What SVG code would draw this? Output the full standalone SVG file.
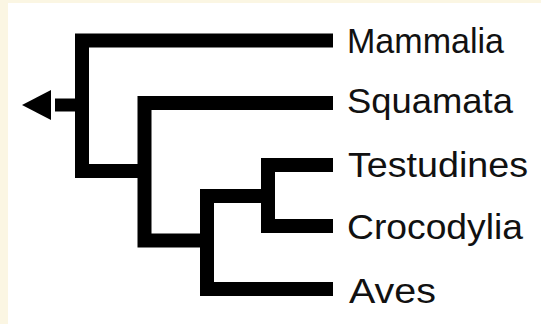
<svg xmlns="http://www.w3.org/2000/svg" width="541" height="324" viewBox="0 0 541 324">
  <style>
    .br { fill: none; stroke: #000; stroke-width: 14; stroke-linejoin: miter; stroke-linecap: butt; }
    .lbl { font-family: "Liberation Sans", Arial, sans-serif; font-size: 35px; fill: #111; }
  </style>
  <rect x="0" y="0" width="541" height="324" fill="#fbf6e3"/>
  <rect x="8" y="3" width="533" height="321" fill="#ffffff"/>
  <g id="connectors">
    <path class="br" d="M333,40.5 H82 V171 H144.5"/>
    <path class="br" d="M333,103 H144.5 V240.5 H207"/>
    <path class="br" d="M268,196 H207 V289 H333"/>
    <path class="br" d="M333,165 H268 V226 H333"/>
    <path class="br" d="M82,105 H55" style="stroke-width:13"/>
    <polygon points="22,105 51,90 51,120" fill="#000"/>
  </g>
  <g id="mammalia"><text class="lbl" x="347" y="53" textLength="157" lengthAdjust="spacingAndGlyphs">Mammalia</text></g>
  <g id="squamata"><text class="lbl" x="347" y="113" textLength="166" lengthAdjust="spacingAndGlyphs">Squamata</text></g>
  <g id="testudines"><text class="lbl" x="348" y="177" textLength="180" lengthAdjust="spacingAndGlyphs">Testudines</text></g>
  <g id="crocodylia"><text class="lbl" x="347" y="239" textLength="176" lengthAdjust="spacingAndGlyphs">Crocodylia</text></g>
  <g id="aves"><text class="lbl" x="349" y="302.5" textLength="87" lengthAdjust="spacingAndGlyphs">Aves</text></g>
</svg>
